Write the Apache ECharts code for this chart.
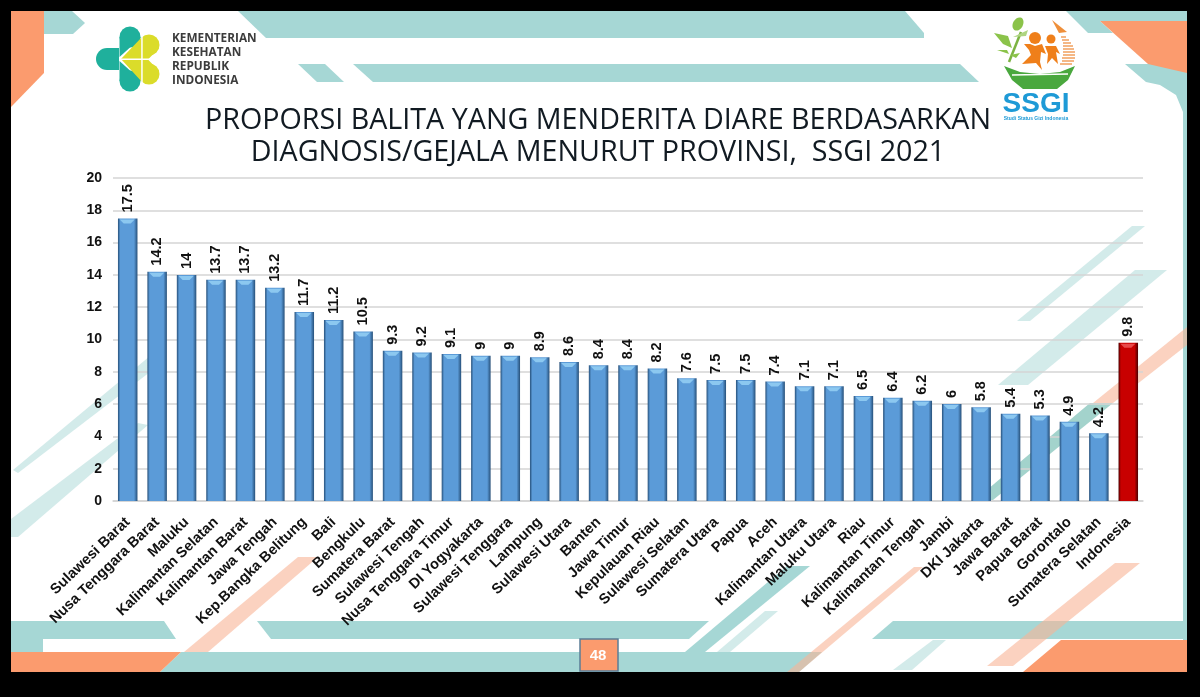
<!DOCTYPE html>
<html>
<head>
<meta charset="utf-8">
<title>Proporsi Balita Diare SSGI 2021</title>
<script src="https://cdn.jsdelivr.net/npm/echarts@6/dist/echarts.min.js"></script>
<style>
html,body{margin:0;padding:0;background:#000;}
#chart{width:1200px;height:697px;}
</style>
</head>
<body>
<div id="chart"></div>
<script>
var provinces = ['Sulawesi Barat','Nusa Tenggara Barat','Maluku','Kalimantan Selatan','Kalimantan Barat','Jawa Tengah','Kep.Bangka Belitung','Bali','Bengkulu','Sumatera Barat','Sulawesi Tengah','Nusa Tenggara Timur','DI Yogyakarta','Sulawesi Tenggara','Lampung','Sulawesi Utara','Banten','Jawa Timur','Kepulauan Riau','Sulawesi Selatan','Sumatera Utara','Papua','Aceh','Kalimantan Utara','Maluku Utara','Riau','Kalimantan Timur','Kalimantan Tengah','Jambi','DKI Jakarta','Jawa Barat','Papua Barat','Gorontalo','Sumatera Selatan','Indonesia'];
var values = [17.5,14.2,14,13.7,13.7,13.2,11.7,11.2,10.5,9.3,9.2,9.1,9,9,8.9,8.6,8.4,8.4,8.2,7.6,7.5,7.5,7.4,7.1,7.1,6.5,6.4,6.2,6,5.8,5.4,5.3,4.9,4.2,9.8];
var nationalName = 'Indonesia';

var TEAL = '#a6d7d5', TEAL_LIGHT = '#d3ebea', ORANGE = '#fb9b6e', PEACH = 'rgba(249,180,150,0.6)';
var chart = echarts.init(document.getElementById('chart'));

function gradient(edge, mid) {
    return new echarts.graphic.LinearGradient(0, 0, 1, 0, [
        {offset: 0, color: edge}, {offset: 0.12, color: mid},
        {offset: 0.82, color: mid}, {offset: 1, color: edge}
    ]);
}
function poly(points, fill, z) {
    return {type: 'polygon', shape: {points: points}, style: {fill: fill}, z: z || 0, silent: true};
}
function circle(cx, cy, r, fill) {
    return {type: 'circle', shape: {cx: cx, cy: cy, r: r}, style: {fill: fill}, z: 1, silent: true};
}
function text(x, y, str, font, fill, align) {
    return {type: 'text', x: x, y: y, z: 3, silent: true, style: {text: str, font: font, fill: fill, align: align || 'left', verticalAlign: 'middle'}};
}

// slide background
var background = [
    {type: 'rect', shape: {x: 11, y: 11, width: 1176, height: 661}, style: {fill: '#fff'}, z: 0, silent: true},
    poly([[44,11],[72,11],[85,23],[73,34],[44,34]], TEAL),
    poly([[11,11],[44,11],[44,73],[11,107]], ORANGE),
    poly([[238,11],[905,11],[924,33],[924,38],[266,38]], TEAL),
    poly([[298,64],[325,64],[344,82],[317,82]], TEAL),
    poly([[353,64],[960,64],[979,82],[373,82]], TEAL),
    poly([[1066,11],[1187,11],[1187,21],[1100,21],[1113,33],[1088,33]], TEAL),
    poly([[1125,64],[1187,64],[1187,640],[1183,640],[1183,112],[1176,95],[1160,85],[1146,82]], TEAL),
    poly([[1100,21],[1187,21],[1187,73],[1148,64]], ORANGE),
    // strips behind the plot
    poly([[13,470],[18,473],[150,372],[150,356]], TEAL_LIGHT),
    poly([[11,519],[11,537],[18,537],[148,425],[138,423]], TEAL_LIGHT),
    poly([[1132,226],[1145,226],[1030,321],[1017,321]], TEAL_LIGHT),
    poly([[1135,270],[1167,270],[1028,385],[998,385]], TEAL_LIGHT),
    poly([[1187,327],[1187,345],[1113,403],[1093,403]], PEACH),
    poly([[1090,403],[1113,403],[993,500],[975,500]], '#a3d3cc'),
    // bottom bands
    poly([[11,621],[164,621],[176,639],[43,639],[43,652],[11,652]], TEAL),
    poly([[257,621],[709,621],[689,639],[271,639]], TEAL),
    poly([[160,672],[181,652],[822,652],[799,672]], TEAL),
    poly([[11,652],[181,652],[160,672],[11,672]], ORANGE),
    poly([[298,557],[318,557],[208,652],[184,652]], PEACH),
    poly([[787,566],[810,566],[705,652],[685,652]], TEAL),
    poly([[765,611],[778,611],[730,652],[717,652]], TEAL_LIGHT),
    poly([[914,567],[923,567],[799,672],[787,672]], PEACH),
    poly([[893,621],[1187,621],[1187,639],[872,639]], TEAL),
    poly([[933,640],[946,640],[912,670],[893,670]], TEAL_LIGHT),
    poly([[1061,640],[1187,640],[1187,672],[1023,672]], ORANGE),
    poly([[1115,563],[1140,563],[1013,666],[987,666]], PEACH),
    {type: 'rect', shape: {x: 580, y: 639, width: 38, height: 32}, style: {fill: ORANGE, stroke: '#5b7d96', lineWidth: 1.5}, z: 1, silent: true},
    text(598, 656, '48', 'bold 15px "Liberation Sans"', '#fff', 'center')
];

// Kemenkes logo
var logoKemenkes = [
    {type: 'rect', shape: {x: 96, y: 48, width: 23, height: 22, r: [11,0,0,11]}, style: {fill: '#1fb09c'}, z: 1, silent: true},
    circle(130, 37, 10.5, '#1fb09c'),
    circle(130, 81, 10.5, '#1fb09c'),
    poly([[119.5,37],[140.5,37],[140.5,38],[119.5,57]], '#1fb09c', 1),
    poly([[119.5,61],[140.5,80],[140.5,81],[119.5,81]], '#1fb09c', 1),
    circle(149, 45, 10.5, '#dbdc2a'),
    circle(149, 74, 10.5, '#dbdc2a'),
    poly([[121,59],[142,37],[159,48],[148,59.5],[159,71],[142,82]], '#dbdc2a', 1),
    {type: 'rect', shape: {x: 121, y: 58.5, width: 38, height: 1.5}, style: {fill: '#fff'}, z: 2, silent: true},
    {type: 'rect', shape: {x: 141.2, y: 34, width: 1.5, height: 50}, style: {fill: '#fff'}, z: 2, silent: true},
    text(172, 39, 'KEMENTERIAN', 'bold 11.8px "Open Sans"', '#3c3c3c'),
    text(172, 53, 'KESEHATAN', 'bold 11.8px "Open Sans"', '#3c3c3c'),
    text(172, 67, 'REPUBLIK', 'bold 11.8px "Open Sans"', '#3c3c3c'),
    text(172, 81, 'INDONESIA', 'bold 11.8px "Open Sans"', '#3c3c3c')
];

// SSGI logo
var logoSsgi = [
    poly([[1004,66],[1020,72],[1040,74],[1060,72],[1075,66],[1068,80],[1057,89],[1023,89],[1012,80]], '#4aa83e', 1),
    {type: 'line', shape: {x1: 1012, y1: 75, x2: 1068, y2: 74}, style: {stroke: '#fff', lineWidth: 1.3}, z: 2, silent: true},
    {type: 'line', shape: {x1: 1009, y1: 62, x2: 1021, y2: 32}, style: {stroke: '#7cb342', lineWidth: 2.5}, z: 1, silent: true},
    {type: 'ellipse', shape: {cx: 1018, cy: 24, rx: 5, ry: 7}, rotation: -0.5, originX: 1018, originY: 24, style: {fill: '#8bc34a'}, z: 1, silent: true},
    poly([[994,33],[1008,36],[1012,48],[1003,44]], '#8bc34a', 1),
    poly([[997,50],[1007,50],[1009,54]], '#8bc34a', 1),
    poly([[1010,55],[1020,53],[1016,58]], '#8bc34a', 1),
    poly([[1013,37],[1028,30],[1026,36]], '#aed581', 1),
    circle(1035, 38, 6, '#ef7f1a'),
    poly([[1024,44],[1030,44],[1035,46],[1042,44],[1046,54],[1041,52],[1040,62],[1042,70],[1036,63],[1022,64],[1031,55],[1029,50]], '#ef7f1a', 1),
    circle(1051, 39, 4.5, '#ef7f1a'),
    poly([[1045,46],[1056,46],[1060,54],[1056,52],[1058,64],[1052,58],[1047,64],[1048,54]], '#ef7f1a', 1),
    poly([[1052,20],[1067,32],[1059,33]], '#ef8f3a', 1)
];
[[1061,1066],[1062,1069],[1063,1071],[1063,1073],[1063,1074],[1063,1075],[1063,1075],[1062,1075],[1062,1074],[1060,1072]].forEach(function (s, i) {
    var y = 37 + i * 3;
    logoSsgi.push({type: 'line', shape: {x1: s[0], y1: y, x2: s[1], y2: y}, style: {stroke: '#f2a566', lineWidth: 1.6}, z: 1, silent: true});
});
logoSsgi.push(
    text(1036, 104, 'SSGI', '900 28px "Liberation Sans"', '#1e9ad6', 'center'),
    text(1036, 119, 'Studi Status Gizi Indonesia', 'bold 5px "Liberation Sans"', '#1e9ad6', 'center')
);

var option = {
    backgroundColor: '#000',
    animation: false,
    title: {
        text: 'PROPORSI BALITA YANG MENDERITA DIARE BERDASARKAN\nDIAGNOSIS/GEJALA MENURUT PROVINSI,  SSGI 2021',
        left: 593, top: 100, textAlign: 'center',
        textStyle: {fontFamily: '"Open Sans"', fontWeight: 'normal', fontSize: 28.7, lineHeight: 32, color: '#111a22'}
    },
    grid: {left: 113, right: 57, top: 178, bottom: 196},
    xAxis: {
        type: 'category', data: provinces,
        axisLine: {lineStyle: {color: '#d4d4d4', width: 1.5}},
        axisTick: {show: false},
        axisLabel: {
            interval: 0, rotate: 44, margin: 19, color: '#111',
            fontFamily: '"Liberation Sans"', fontWeight: 'bold', fontSize: 14.6
        }
    },
    yAxis: {
        type: 'value', min: 0, max: 20, interval: 2,
        axisLine: {show: false}, axisTick: {show: false},
        axisLabel: {margin: 11, color: '#111', fontFamily: '"Liberation Sans"', fontWeight: 'bold', fontSize: 14},
        splitLine: {lineStyle: {color: '#d4d4d4', width: 1.5}}
    },
    graphic: {elements: background.concat(logoKemenkes, logoSsgi)},
    series: [
        {
            type: 'bar', barWidth: 19.5, z: 3,
            data: values.map(function (v, i) {
                var red = provinces[i] === nationalName;
                return {
                    value: v,
                    itemStyle: {color: red ? gradient('#4a0000', '#c80000') : gradient('#264f78', '#5b9bd8')}
                };
            }),
            label: {
                show: true, position: 'top', rotate: 90, distance: 6, align: 'left', verticalAlign: 'middle',
                color: '#111', fontFamily: '"Liberation Sans"', fontWeight: 'bold', fontSize: 14.5
            }
        },
        {
            // light bevel along the top of each bar
            type: 'custom', z: 4, silent: true,
            data: values.map(function (v, i) { return [i, v]; }),
            encode: {x: 0, y: 1},
            renderItem: function (params, api) {
                var p = api.coord([api.value(0), api.value(1)]);
                var red = provinces[api.value(0)] === nationalName;
                return {
                    type: 'polygon',
                    shape: {points: [[p[0] - 8, p[1] + 1], [p[0] + 7, p[1] + 1], [p[0] + 3, p[1] + 5], [p[0] - 4, p[1] + 5]]},
                    style: {fill: red ? '#e84a4a' : '#8cc8f0'}
                };
            }
        }
    ]
};
chart.setOption(option);
</script>
</body>
</html>
